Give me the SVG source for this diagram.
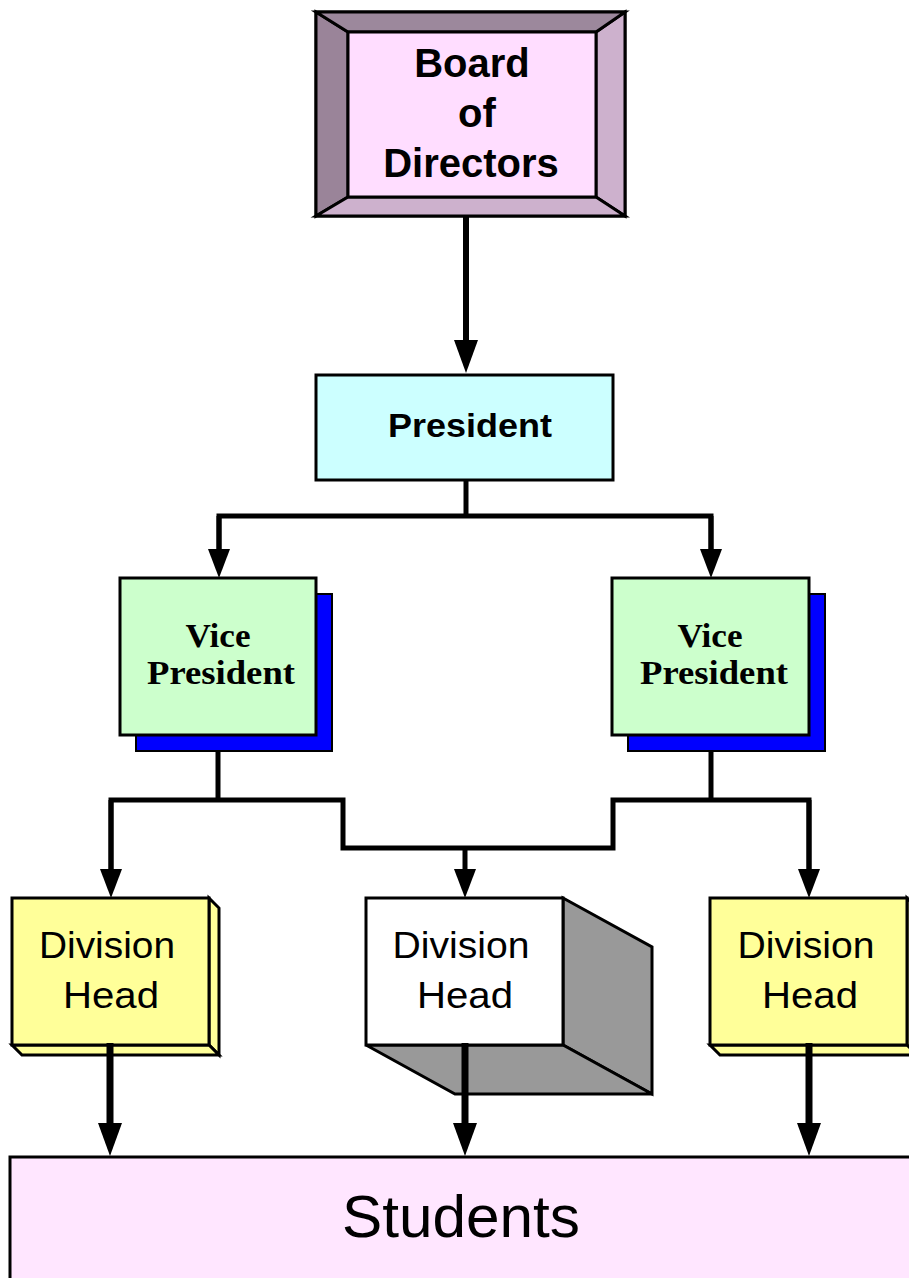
<svg xmlns="http://www.w3.org/2000/svg" width="909" height="1278" viewBox="0 0 909 1278">
<style>
.bx{stroke:#000;stroke-width:3;stroke-linejoin:miter}
.ln{fill:none;stroke:#000;stroke-width:5;stroke-linejoin:miter}
.lnb{fill:none;stroke:#000;stroke-width:7}
.sans{font-family:"Liberation Sans",Arial,sans-serif;fill:#000;text-anchor:middle}
.bold{font-weight:bold}
.serif{font-family:"Liberation Serif","Times New Roman",serif;font-weight:bold;fill:#000;text-anchor:middle}
</style>
<defs>
<marker id="ah" markerUnits="userSpaceOnUse" markerWidth="30" markerHeight="22" refX="0" refY="11" orient="auto" overflow="visible">
<path d="M0,0 L29,11 L0,22 z" fill="#000"/>
</marker>
<marker id="ahb" markerUnits="userSpaceOnUse" markerWidth="33" markerHeight="24" refX="0" refY="12" orient="auto" overflow="visible">
<path d="M0,0 L33,12 L0,24 z" fill="#000"/>
</marker>
</defs>
<rect width="909" height="1278" fill="#fff"/>

<g id="connectors">
<path class="ln" d="M466,217 V340" style="stroke-width:6" marker-end="url(#ahb)"/>
<path class="ln" d="M466,480 V516"/>
<path class="ln" d="M219,549 V516 H711 V549" />
<path class="ln" d="M219,516 V549" marker-end="url(#ah)"/>
<path class="ln" d="M711,516 V549" marker-end="url(#ah)"/>
<path class="ln" d="M218,736 V800"/>
<path class="ln" d="M711,736 V800"/>
<path class="ln" d="M111,869 V800 H343 V848 H613 V800 H809 V869"/>
<path class="ln" d="M111,800 V869" marker-end="url(#ah)"/>
<path class="ln" d="M809,800 V869" marker-end="url(#ah)"/>
<path class="ln" d="M465,848 V869" marker-end="url(#ah)"/>
</g>

<g id="board">
<rect class="bx" x="316" y="12" width="309" height="204" fill="#9c889c"/>
<polygon class="bx" points="316,12 348,32 348,197 316,216" fill="#9a8499"/>
<polygon class="bx" points="625,12 596,32 596,197 625,216" fill="#cdb1cd"/>
<polygon class="bx" points="316,216 348,197 596,197 625,216" fill="#cdb1cd"/>
<polygon class="bx" points="316,12 625,12 596,32 348,32" fill="#9c889c"/>
<rect class="bx" x="348" y="32" width="248" height="165" fill="#ffddff"/>
<text class="sans bold" x="472" y="77" font-size="40">Board</text>
<text class="sans bold" x="477" y="127" font-size="40">of</text>
<text class="sans bold" x="471" y="177" font-size="40">Directors</text>
</g>

<g id="president">
<rect class="bx" x="316" y="375" width="297" height="105" fill="#ccffff"/>
<text class="sans bold" x="470" y="437" font-size="34" textLength="164" lengthAdjust="spacingAndGlyphs">President</text>
</g>

<g id="vp-left">
<rect x="136" y="594" width="196" height="157" fill="#0000ff" stroke="#000" stroke-width="2"/>
<rect class="bx" x="120" y="578" width="196" height="157" fill="#ccffcc"/>
<text class="serif" x="218" y="647" font-size="34" textLength="65" lengthAdjust="spacingAndGlyphs">Vice</text>
<text class="serif" x="221" y="684" font-size="34" textLength="148" lengthAdjust="spacingAndGlyphs">President</text>
</g>

<g id="vp-right">
<rect x="628" y="594" width="197" height="157" fill="#0000ff" stroke="#000" stroke-width="2"/>
<rect class="bx" x="612" y="578" width="197" height="157" fill="#ccffcc"/>
<text class="serif" x="710" y="647" font-size="34" textLength="65" lengthAdjust="spacingAndGlyphs">Vice</text>
<text class="serif" x="714" y="684" font-size="34" textLength="148" lengthAdjust="spacingAndGlyphs">President</text>
</g>

<g id="dh-left">
<polygon class="bx" points="209,898 219,908 219,1055 209,1045" fill="#ffff99"/>
<polygon class="bx" points="12,1045 209,1045 219,1055 22,1055" fill="#ffff99"/>
<rect class="bx" x="12" y="898" width="197" height="147" fill="#ffff99"/>
<text class="sans" x="107" y="958" font-size="37" textLength="136" lengthAdjust="spacingAndGlyphs">Division</text>
<text class="sans" x="111" y="1008" font-size="37" textLength="96" lengthAdjust="spacingAndGlyphs">Head</text>
</g>

<g id="dh-middle">
<polygon class="bx" points="563,898 652,947 652,1094 563,1045" fill="#999999"/>
<polygon class="bx" points="366,1045 563,1045 652,1094 455,1094" fill="#999999"/>
<rect class="bx" x="366" y="898" width="197" height="147" fill="#ffffff"/>
<text class="sans" x="461" y="958" font-size="37" textLength="137" lengthAdjust="spacingAndGlyphs">Division</text>
<text class="sans" x="465" y="1008" font-size="37" textLength="96" lengthAdjust="spacingAndGlyphs">Head</text>
</g>

<g id="dh-right">
<polygon class="bx" points="907,898 917,908 917,1055 907,1045" fill="#ffff99"/>
<polygon class="bx" points="710,1045 907,1045 917,1055 720,1055" fill="#ffff99"/>
<rect class="bx" x="710" y="898" width="197" height="147" fill="#ffff99"/>
<text class="sans" x="806" y="958" font-size="37" textLength="137" lengthAdjust="spacingAndGlyphs">Division</text>
<text class="sans" x="810" y="1008" font-size="37" textLength="96" lengthAdjust="spacingAndGlyphs">Head</text>
</g>

<g id="students">
<rect class="bx" x="10" y="1157" width="910" height="140" fill="#ffe6ff"/>
<text class="sans" x="461" y="1237" font-size="60" textLength="238" lengthAdjust="spacingAndGlyphs">Students</text>
</g>

<g id="connectors-bottom">
<path class="lnb" d="M110,1043 V1123" marker-end="url(#ahb)"/>
<path class="lnb" d="M465,1043 V1123" marker-end="url(#ahb)"/>
<path class="lnb" d="M809,1043 V1123" marker-end="url(#ahb)"/>
</g>
</svg>
